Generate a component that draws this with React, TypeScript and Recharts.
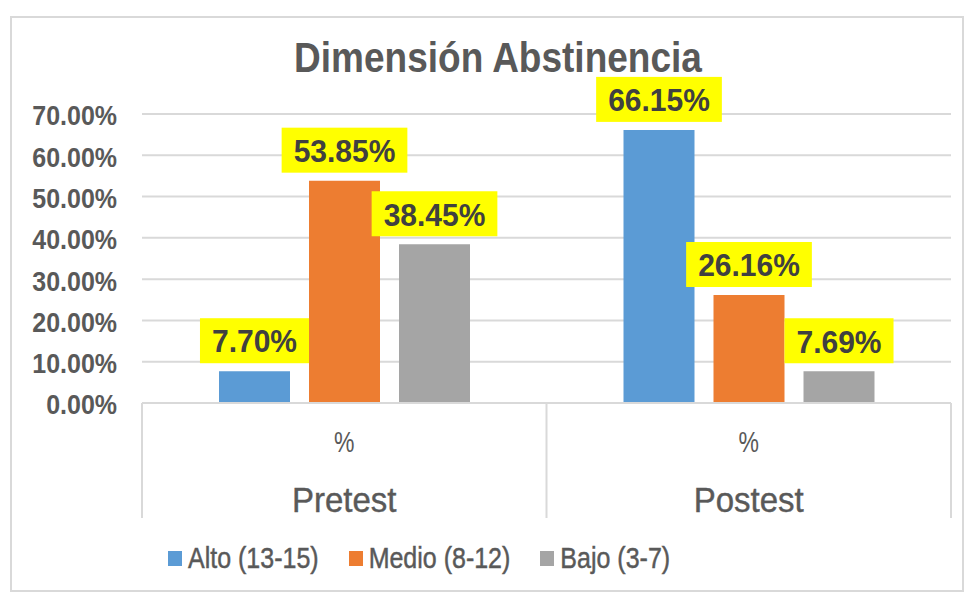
import { BarChart, Bar, XAxis, YAxis, CartesianGrid, LabelList } from 'recharts';

document.body.style.margin = '0';

const categories = ['Pretest', 'Postest'];
const subLabel = '%';
const altoValues = [7.7, 66.15];
const medioValues = [53.85, 26.16];
const bajoValues = [38.45, 7.69];
const yTicks = [0, 10, 20, 30, 40, 50, 60, 70];

const seriesNames = ['Alto (13-15)', 'Medio (8-12)', 'Bajo (3-7)'];
const seriesKeys = ['alto', 'medio', 'bajo'];
const seriesColors = ['#5B9BD5', '#ED7D31', '#A5A5A5'];

const data = categories.map((name, i) => ({
  name,
  alto: altoValues[i],
  medio: medioValues[i],
  bajo: bajoValues[i],
}));

const FONT = '"Liberation Sans", Arial, sans-serif';
const W = 971;
const H = 593;
const PLOT_LEFT = 142;
const PLOT_RIGHT = 951;
const PLOT_BOTTOM = 403;
const BAND = (PLOT_RIGHT - PLOT_LEFT) / categories.length;
const GRID = '#d9d9d9';

const fmt = (v: number) => `${v.toFixed(2)}%`;

function textWidth(s: string, size: number) {
  let w = 0;
  for (const ch of s) {
    if (ch === '.') w += 0.278;
    else if (ch === '%') w += 0.889;
    else w += 0.556;
  }
  return w * size;
}

// excel rendering is a bit taller than wide, stretch text vertically
function TallText({ x, y, sy, children, ...rest }: any) {
  return (
    <text transform={`translate(${x},${y}) scale(1,${sy})`} x={0} y={0} fontFamily={FONT}
      dominantBaseline="central" {...rest}>
      {children}
    </text>
  );
}

function YTick({ y, payload }: any) {
  return (
    <TallText x={117} y={y + 2} sy={1.1} textAnchor="end" fill="#595959" fontSize={25} fontWeight="bold">
      {fmt(payload.value)}
    </TallText>
  );
}

function XTick({ x, index, payload }: any) {
  const left = x - BAND / 2;
  const right = x + BAND / 2;
  return (
    <g>
      <TallText x={x} y={442} sy={1.3} textAnchor="middle" fill="#595959" fontSize={23}>
        {subLabel}
      </TallText>
      <TallText x={x} y={500} sy={1.05} textAnchor="middle" fill="#595959" fontSize={33}
        stroke="#595959" strokeWidth={0.4}>
        {payload.value}
      </TallText>
      <line x1={left} y1={PLOT_BOTTOM} x2={left} y2={518} stroke={GRID} strokeWidth={2} />
      {index === categories.length - 1 && (
        <line x1={right} y1={PLOT_BOTTOM} x2={right} y2={518} stroke={GRID} strokeWidth={2} />
      )}
    </g>
  );
}

function ValueLabel({ x, y, width, value }: any) {
  const txt = fmt(value);
  const size = 30;
  const bw = textWidth(txt, size) + 24;
  const bh = 45;
  const cx = x + width / 2;
  const bottom = y - 8;
  return (
    <g>
      <rect x={cx - bw / 2} y={bottom - bh} width={bw} height={bh} fill="#FFFF00" />
      <TallText x={cx} y={bottom - bh / 2 + 1} sy={1.05} textAnchor="middle"
        fill="#404040" fontSize={size} fontWeight="bold">
        {txt}
      </TallText>
    </g>
  );
}

export default function App() {
  return (
    <div style={{ position: 'relative', width: W, height: H, background: '#fff', fontFamily: FONT }}>
      <div style={{ position: 'absolute', left: 10, top: 16, width: 950, height: 572, border: `2px solid ${GRID}` }} />
      <div style={{ position: 'absolute', left: 0, top: 36, width: 996, textAlign: 'center',
        fontSize: 37, fontWeight: 'bold', color: '#595959', lineHeight: '44px', transform: 'scaleY(1.15)' }}>
        Dimensión Abstinencia
      </div>
      <div style={{ position: 'absolute', left: 0, top: 0 }}>
        <BarChart width={W} height={H} data={data} barSize={71} barGap={19}
          margin={{ top: 114, right: W - PLOT_RIGHT, bottom: 75, left: 0 }}>
          <CartesianGrid vertical={false} stroke={GRID} strokeWidth={2} />
          <YAxis width={PLOT_LEFT} domain={[0, 70]} ticks={yTicks} axisLine={false} tickLine={false}
            tick={<YTick />} interval={0} />
          <XAxis dataKey="name" height={H - 75 - PLOT_BOTTOM} axisLine={{ stroke: GRID, strokeWidth: 2 }}
            tickLine={false} tick={<XTick />} interval={0} />
          {seriesKeys.map((k, i) => (
            <Bar key={k} dataKey={k} name={seriesNames[i]} fill={seriesColors[i]} isAnimationActive={false}>
              <LabelList dataKey={k} content={<ValueLabel />} />
            </Bar>
          ))}
        </BarChart>
      </div>
      <div style={{ position: 'absolute', left: 168, top: 541, display: 'flex', alignItems: 'center',
        fontSize: 25, color: '#595959', lineHeight: '34px' }}>
        {seriesNames.map((n, i) => (
          <div key={n} style={{ display: 'flex', alignItems: 'center', marginRight: 30 }}>
            <span style={{ display: 'inline-block', width: 14, height: 15, background: seriesColors[i], marginRight: 6 }} />
            <span style={{ display: 'inline-block', transform: 'scaleY(1.15)', WebkitTextStroke: '0.4px #595959' }}>{n}</span>
          </div>
        ))}
      </div>
    </div>
  );
}
